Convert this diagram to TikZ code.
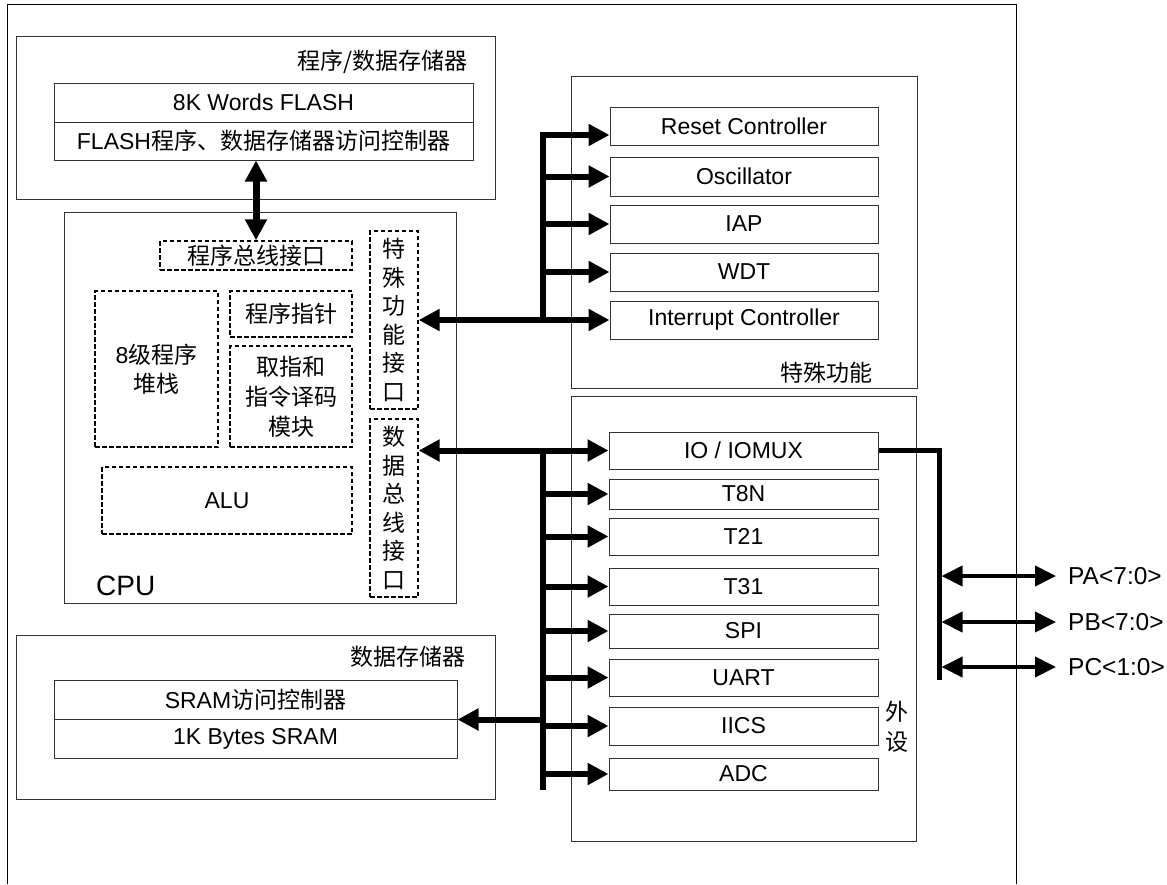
\documentclass[tikz,border=0pt]{standalone}
\usepackage{fontspec}
\setmainfont{Liberation Sans}
\newfontfamily\cjk{Noto Sans CJK SC}
\usetikzlibrary{arrows.meta}
\begin{document}
\begin{tikzpicture}[x=1pt,y=-1pt,
  font=\fontsize{23}{28.5}\selectfont,
  thinln/.style={draw=black!80, line width=1pt},
  grpbox/.style={thinln, rectangle, inner sep=0pt},
  ubox/.style={thinln, rectangle, inner sep=0pt, align=center},
  dbox/.style={draw=black, line width=1.3pt, dash pattern=on 4.5pt off 2.5pt, rectangle, inner sep=0pt, align=center},
  bus/.style={line width=6pt},
  arr/.style={-{Triangle[length=21pt,width=21pt]}},
  darr/.style={{Triangle[length=21pt,width=21pt]}-{Triangle[length=21pt,width=21pt]}},
  pline/.style={line width=4pt, {Triangle[length=21pt,width=20pt]}-{Triangle[length=21pt,width=20pt]}},
  lbl/.style={inner sep=0pt},
  pinlbl/.style={inner sep=0pt, anchor=west, font=\fontsize{24.5}{28}\selectfont}
]
\useasboundingbox (0,0) rectangle (1167,884);
% outer frame
\draw[line width=1pt] (7,884) -- (7,4) -- (1016,4) -- (1016,884);

% program / data memory
\node[grpbox, minimum width=479, minimum height=163] (fgrp) at (255.5,117.5) {};
\node[lbl, anchor=east] (fgrpt) at (468,62) {\cjk 程序/数据存储器};
\node[ubox, minimum width=419, minimum height=39] (flash) at (263.5,102.5) {8K Words FLASH};
\node[ubox, minimum width=419, minimum height=38] (fctrl) at (263.5,141) {FLASH{\cjk 程序、数据存储器访问控制器}};

% CPU
\node[grpbox, minimum width=392, minimum height=391] (cpu) at (260,407.5) {};
\node[lbl, anchor=west, font=\fontsize{28}{30}\selectfont] (cpul) at (96,586) {CPU};
\node[dbox, minimum width=192, minimum height=29] (pbus) at (256,255.5) {\cjk 程序总线接口};
\node[dbox, minimum width=48, minimum height=178] (sfi) at (394,320) {\cjk 特\\\cjk 殊\\\cjk 功\\\cjk 能\\\cjk 接\\\cjk 口};
\node[dbox, minimum width=48, minimum height=178] (dbi) at (394,508) {\cjk 数\\\cjk 据\\\cjk 总\\\cjk 线\\\cjk 接\\\cjk 口};
\node[dbox, minimum width=123, minimum height=156] (stack) at (156.5,369) {8{\cjk 级程序}\\{\cjk 堆栈}};
\node[dbox, minimum width=122, minimum height=46] (pcn) at (291,314) {\cjk 程序指针};
\node[dbox, minimum width=122, minimum height=101, font=\fontsize{23}{30}\selectfont] (dec) at (291,396.5) {\cjk 取指和\\\cjk 指令译码\\\cjk 模块};
\node[dbox, minimum width=250, minimum height=67] (alu) at (227,500.5) {ALU};

% special functions
\node[grpbox, minimum width=346, minimum height=312] (sgrp) at (744,232) {};
\node[lbl, anchor=east] (sgrpt) at (873,373) {\cjk 特殊功能};
\node[ubox, minimum width=268, minimum height=38] (reset) at (744,126) {Reset Controller};
\node[ubox, minimum width=268, minimum height=39] (osc) at (744,176.5) {Oscillator};
\node[ubox, minimum width=268, minimum height=38] (iap) at (744,224) {IAP};
\node[ubox, minimum width=268, minimum height=38] (wdt) at (744,272) {WDT};
\node[ubox, minimum width=268, minimum height=38] (intc) at (744,320) {Interrupt Controller};

% peripherals
\node[grpbox, minimum width=345, minimum height=445] (pgrp) at (743.5,618.5) {};
\node[lbl, align=center, font=\fontsize{23}{30}\selectfont] (pgrpt) at (897,727) {\cjk 外\\\cjk 设};
\node[ubox, minimum width=269, minimum height=37] (io) at (743.5,450.5) {IO / IOMUX};
\node[ubox, minimum width=269, minimum height=30] (t8n) at (743.5,494) {T8N};
\node[ubox, minimum width=269, minimum height=37] (t21) at (743.5,536.5) {T21};
\node[ubox, minimum width=269, minimum height=37] (t31) at (743.5,586.5) {T31};
\node[ubox, minimum width=269, minimum height=34] (spi) at (743.5,631) {SPI};
\node[ubox, minimum width=269, minimum height=37] (uart) at (743.5,677.5) {UART};
\node[ubox, minimum width=269, minimum height=38] (iics) at (743.5,726) {IICS};
\node[ubox, minimum width=269, minimum height=32] (adc) at (743.5,774) {ADC};

% data memory
\node[grpbox, minimum width=479, minimum height=164] (dgrp) at (255.5,717) {};
\node[lbl, anchor=east] (dgrpt) at (466,657) {\cjk 数据存储器};
\node[ubox, minimum width=403, minimum height=39] (sramc) at (255.5,699.5) {SRAM{\cjk 访问控制器}};
\node[ubox, minimum width=403, minimum height=39] (sram) at (255.5,738.5) {1K Bytes SRAM};

% flash <-> program bus interface
\draw[line width=7pt, darr] (pbus.north |- fctrl.south) -- (pbus.north);

% special function bus
\coordinate (sbtop) at (543,135);
\coordinate (sbbot) at (543,320);
\draw[bus, arr, line join=miter] (sbbot) -- (sbtop) -- (reset.west |- sbtop);
\draw[bus, arr] (sbtop |- osc.west) -- (osc.west);
\draw[bus, arr] (sbtop |- iap.west) -- (iap.west);
\draw[bus, arr] (sbtop |- wdt.west) -- (wdt.west);
\draw[bus, darr] (sfi.east) -- (intc.west);

% peripheral / data bus
\coordinate (pbtop) at (543,450.5);
\coordinate (pbbot) at (543,790);
\draw[bus] (pbtop) -- (pbbot);
\draw[bus, darr] (dbi.east |- io.west) -- (io.west);
\foreach \n in {t8n,t21,t31,spi,uart,iics,adc}
  \draw[bus, arr] (pbtop |- \n.west) -- (\n.west);
\draw[bus, arr] (pbtop |- sramc.south east) -- (sramc.south east);

% IO pins
\coordinate (iocorner) at (939,450.5);
\coordinate (iobot) at (939,680);
\draw[line width=5pt, line join=miter] (io.east) -- (iocorner) -- (iobot);
\node[pinlbl] (pa) at (1068,576) {PA<7:0>};
\node[pinlbl] (pb) at (1068,622) {PB<7:0>};
\node[pinlbl] (pcl) at (1068,667) {PC<1:0>};
\foreach \n in {pa,pb,pcl}
  \draw[pline] ([xshift=2.5pt]iocorner |- \n.west) -- ([xshift=-12pt]\n.west);
\end{tikzpicture}
\end{document}
